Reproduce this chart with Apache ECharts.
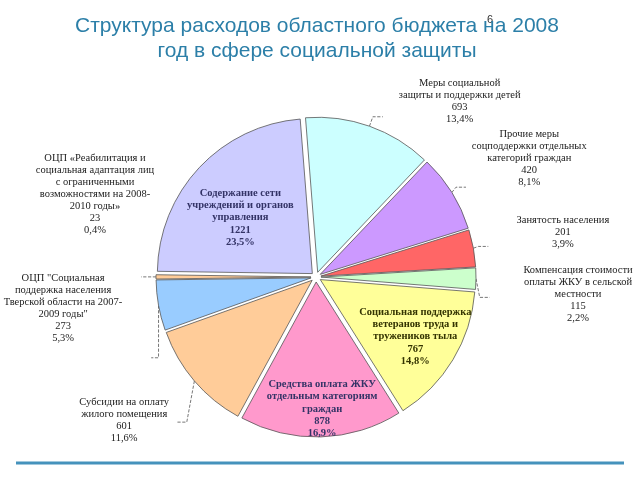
<!DOCTYPE html>
<html><head><meta charset="utf-8">
<script src="https://cdn.jsdelivr.net/npm/echarts@6/dist/echarts.min.js"></script>
<style>html,body{margin:0;padding:0;background:#fff}#c{width:640px;height:480px}</style>
</head><body><div id="c"></div>
<script>
const categories = [
  'Меры социальной\nзащиты и поддержки детей',
  'Прочие меры\nсоцподдержки отдельных\nкатегорий граждан',
  'Занятость населения',
  'Компенсация стоимости\nоплаты ЖКУ в сельской\nместности',
  'Социальная поддержка\nветеранов труда и\nтружеников тыла',
  'Средства оплата ЖКУ\nотдельным категориям\nграждан',
  'Субсидии на оплату\nжилого помещения',
  'ОЦП "Социальная\nподдержка населения\nТверской области на 2007-\n2009 годы"',
  'ОЦП «Реабилитация и\nсоциальная адаптация лиц\nс ограниченными\nвозможностями на 2008-\n2010 годы»',
  'Содержание сети\nучреждений и органов\nуправления'
];
const values = [693, 420, 201, 115, 767, 878, 601, 273, 23, 1221];
const pctLabels = ['13,4%', '8,1%', '3,9%', '2,2%', '14,8%', '16,9%', '11,6%', '5,3%', '0,4%', '23,5%'];

// styling / layout (not data)
const colors = ['#CCFFFF', '#CC99FF', '#FF6666', '#CCFFCC', '#FFFF99', '#FF99CC', '#FFCC99', '#99CCFF', '#FFCC99', '#CCCCFF'];
const inside = [false, false, false, false, true, true, false, false, false, true];
const insideColor = ['', '', '', '', '#333300', '#333366', '', '', '', '#333366'];
const labelCenters = [[458, 106], [525, 161], [558, 233], [573, 294], [411, 334], [322, 404], [128, 417], [68, 307], [100, 194], [244, 221]];

const chart = echarts.init(document.getElementById('c'), null, {renderer: 'canvas'});
const data = values.map((v, i) => ({
  name: categories[i],
  value: v,
  selected: true,
  itemStyle: {color: colors[i]},
  label: inside[i] ? {
    fontWeight: 'bold', fontSize: 10.5, lineHeight: 12.3, color: insideColor[i]
  } : {},
  labelLine: {show: !inside[i]}
}));

chart.setOption({
  animation: false,
  title: {
    text: 'Структура расходов областного бюджета на 2008\nгод в сфере социальной защиты',
    left: 312, top: 9, textAlign: 'center',
    textStyle: {fontFamily: 'Liberation Sans', fontSize: 21, fontWeight: 'normal', color: '#2c7fa8', lineHeight: 25}
  },
  graphic: [
    {type: 'line', shape: {x1: 16, y1: 463, x2: 624, y2: 463}, style: {stroke: '#4592bc', lineWidth: 3}},
    {type: 'text', x: 487, y: 14, style: {text: '6', fontSize: 11, fill: '#333', fontFamily: 'Liberation Sans'}}
  ],
  series: [{
    type: 'pie',
    center: [316, 277],
    radius: 155,
    startAngle: 94.5,
    clockwise: true,
    selectedMode: 'multiple',
    selectedOffset: 5,
    data: data,
    itemStyle: {borderColor: '#555', borderWidth: 0.8},
    select: {itemStyle: {borderColor: '#555', borderWidth: 0.8}},
    emphasis: {disabled: true},
    label: {
      show: true,
      position: 'outside',
      fontFamily: 'Liberation Serif',
      fontSize: 10.5,
      lineHeight: 12,
      color: '#222',
      align: 'center',
      formatter: p => p.name + '\n' + p.value + '\n' + pctLabels[p.dataIndex]
    },
    labelLine: {show: true, length: 10, length2: 10, lineStyle: {color: '#555', width: 0.8, type: 'dashed'}},
    labelLayout: p => {
      const r = p.labelRect;
      const t = labelCenters[p.dataIndex];
      const ax = p.align === 'left' ? r.x : p.align === 'right' ? r.x + r.width : r.x + r.width / 2;
      const ay = p.verticalAlign === 'top' ? r.y : p.verticalAlign === 'bottom' ? r.y + r.height : r.y + r.height / 2;
      return {
        dx: t[0] - ax,
        dy: t[1] - ay,
        align: 'center',
        verticalAlign: 'middle',
        hideOverlap: false
      };
    }
  }]
});
</script>
</body></html>
